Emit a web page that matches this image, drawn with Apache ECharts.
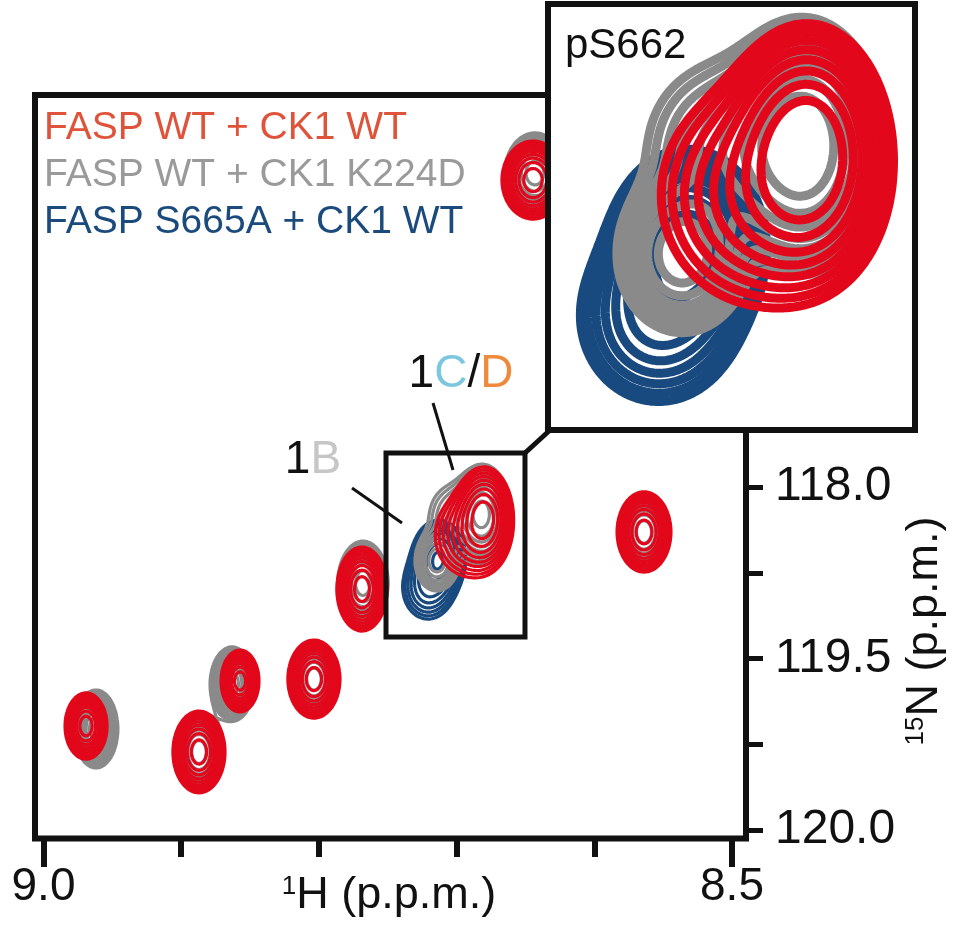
<!DOCTYPE html>
<html><head><meta charset="utf-8">
<script src="https://cdn.jsdelivr.net/npm/echarts@6/dist/echarts.min.js"></script>
<style>html,body{margin:0;padding:0;background:#fff}#c{width:954px;height:938px}</style>
</head><body><div id="c"></div>
<script>
// ---------------- data ----------------
const seriesNames = ['FASP WT + CK1 WT', 'FASP WT + CK1 K224D', 'FASP S665A + CK1 WT'];
const xTickValues = [9.0, 8.5];
const xTickLabels = ['9.0', '8.5'];
const yTickLabels = ['118.0', '', '119.5', '', '120.0'];
// peaks: [1H ppm, 15N ppm, sigma 1H (ppm), sigma 15N (ppm), height]
const peaksWT = [
  [8.6445, 116.210, 0.0105, 0.106, 10],
  [8.5639, 118.262, 0.0091, 0.109, 10],
  [8.7687, 118.595, 0.0085, 0.114, 10],
  [8.8036, 119.120, 0.0088, 0.106, 10],
  [8.8573, 119.131, 0.0064, 0.084, 10],
  [8.8871, 119.545, 0.0088, 0.111, 10],
  [8.9691, 119.394, 0.0071, 0.090, 10],
  [8.6798, 118.177, 0.0097, 0.1385, 9],
  [8.6930, 118.283, 0.0151, 0.151, 3]
];
const peaksK224D = [
  [8.6431, 116.169, 0.0102, 0.109, 10],
  [8.5639, 118.262, 0.0087, 0.103, 10],
  [8.7680, 118.560, 0.0085, 0.114, 10],
  [8.8036, 119.120, 0.0083, 0.101, 10],
  [8.8631, 119.149, 0.0074, 0.101, 10],
  [8.8871, 119.545, 0.0083, 0.106, 10],
  [8.9619, 119.411, 0.0074, 0.106, 10],
  [8.6811, 118.159, 0.0097, 0.1385, 9],
  [8.7144, 118.434, 0.0083, 0.091, 6],
  [8.7027, 118.169, 0.0124, 0.126, 2.5]
];
const peaksS665A = [
  [8.7128, 118.409, 0.0094, 0.106, 8],
  [8.7210, 118.590, 0.0113, 0.113, 3.5]
];
// magnified window (pS662) in ppm
const zoomX = [8.65033, 8.75127];
const zoomY = [117.8017, 118.8746];
// main plot extent in ppm
const mainX = [8.48983, 9.00617];
const mainY = [115.714, 120.0496];
const levelsMain = [1, 1.3, 1.69, 2.2, 2.86, 3.71, 4.83, 6.27, 8.16];
const levelsZoom = [0.6, 0.84, 1.18, 1.65, 2.3, 3.2, 4.5, 6.3];

// ---------------- contouring ----------------
function field(peaks, xr, yr, nx, ny) {
  const xs = [], ys = [];
  for (let i = 0; i < nx; i++) xs.push(xr[0] + (xr[1] - xr[0]) * i / (nx - 1));
  for (let j = 0; j < ny; j++) ys.push(yr[0] + (yr[1] - yr[0]) * j / (ny - 1));
  const f = new Float64Array(nx * ny);
  for (const p of peaks) {
    for (let j = 0; j < ny; j++) {
      const dy = (ys[j] - p[1]) / p[3];
      if (Math.abs(dy) > 6) continue;
      for (let i = 0; i < nx; i++) {
        const dx = (xs[i] - p[0]) / p[2];
        if (Math.abs(dx) > 6) continue;
        f[j * nx + i] += p[4] * Math.exp(-0.5 * (dx * dx + dy * dy));
      }
    }
  }
  return { f, xs, ys, nx, ny };
}
function march(F, L) {
  const { f, xs, ys, nx, ny } = F;
  const segs = [];
  function ip(i0, j0, i1, j1) {
    const a = f[j0 * nx + i0], b = f[j1 * nx + i1];
    const t = (L - a) / (b - a);
    return [xs[i0] + (xs[i1] - xs[i0]) * t, ys[j0] + (ys[j1] - ys[j0]) * t];
  }
  for (let j = 0; j < ny - 1; j++) {
    for (let i = 0; i < nx - 1; i++) {
      const a = f[j * nx + i], b = f[j * nx + i + 1], c = f[(j + 1) * nx + i + 1], d = f[(j + 1) * nx + i];
      const idx = (a > L ? 1 : 0) | (b > L ? 2 : 0) | (c > L ? 4 : 0) | (d > L ? 8 : 0);
      if (idx === 0 || idx === 15) continue;
      const E = [
        () => ['h' + i + '_' + j, ip(i, j, i + 1, j)],
        () => ['v' + (i + 1) + '_' + j, ip(i + 1, j, i + 1, j + 1)],
        () => ['h' + i + '_' + (j + 1), ip(i, j + 1, i + 1, j + 1)],
        () => ['v' + i + '_' + j, ip(i, j, i, j + 1)]
      ];
      let pairs;
      switch (idx) {
        case 1: case 14: pairs = [[3, 0]]; break;
        case 2: case 13: pairs = [[0, 1]]; break;
        case 3: case 12: pairs = [[3, 1]]; break;
        case 4: case 11: pairs = [[1, 2]]; break;
        case 6: case 9: pairs = [[0, 2]]; break;
        case 7: case 8: pairs = [[3, 2]]; break;
        case 5: { const m = (a + b + c + d) / 4; pairs = m > L ? [[0, 1], [2, 3]] : [[3, 0], [1, 2]]; break; }
        case 10: { const m = (a + b + c + d) / 4; pairs = m > L ? [[3, 0], [1, 2]] : [[0, 1], [2, 3]]; break; }
      }
      for (const pr of pairs) {
        const A = E[pr[0]](), B = E[pr[1]]();
        segs.push([A[0], A[1], B[0], B[1]]);
      }
    }
  }
  const adj = new Map();
  segs.forEach((s, k) => {
    for (const key of [s[0], s[2]]) { if (!adj.has(key)) adj.set(key, []); adj.get(key).push(k); }
  });
  const used = new Uint8Array(segs.length);
  const lines = [];
  for (let k = 0; k < segs.length; k++) {
    if (used[k]) continue;
    used[k] = 1;
    const s = segs[k];
    const fwd = [s[1], s[3]];
    let endKey = s[2];
    while (true) {
      const cand = adj.get(endKey).find(m => !used[m]);
      if (cand === undefined) break;
      used[cand] = 1;
      const t = segs[cand];
      if (t[0] === endKey) { fwd.push(t[3]); endKey = t[2]; } else { fwd.push(t[1]); endKey = t[0]; }
    }
    let startKey = s[0];
    const back = [];
    while (true) {
      const cand = adj.get(startKey).find(m => !used[m]);
      if (cand === undefined) break;
      used[cand] = 1;
      const t = segs[cand];
      if (t[0] === startKey) { back.push(t[3]); startKey = t[2]; } else { back.push(t[1]); startKey = t[0]; }
    }
    lines.push(back.reverse().concat(fwd));
  }
  return lines;
}
function contours(peaks, xr, yr, nx, ny, levels) {
  const F = field(peaks, xr, yr, nx, ny);
  let out = [];
  for (const L of levels) out = out.concat(march(F, L));
  return out;
}
const inZoom = p => p[0] >= zoomX[0] && p[0] <= zoomX[1] && p[1] >= zoomY[0] && p[1] <= zoomY[1];

const COLORS = ['#e2071a', '#8a8a8a', '#18497f'];
const TEXTCOL = ['#e0533b', '#9a9a9a', '#1b4a7c'];
const allPeaks = [peaksWT, peaksK224D, peaksS665A];

function contourSeries(lines, axisIdx, color, width, z, name) {
  return {
    type: 'custom', name, xAxisIndex: axisIdx, yAxisIndex: axisIdx, clip: true, z, silent: true,
    animation: false,
    data: lines.map(l => [l[0][0], l[0][1]]),
    renderItem: (params, api) => {
      const line = lines[params.dataIndex];
      return {
        type: 'polyline',
        shape: { points: line.map(p => api.coord(p)) },
        style: { stroke: color, lineWidth: width, fill: 'none', lineJoin: 'round', lineCap: 'round' }
      };
    }
  };
}

const series = [];
// draw order: blue, gray, red
[2, 1, 0].forEach((s, order) => {
  const mainLines = contours(allPeaks[s], mainX, mainY, 356, 372, levelsMain);
  series.push(contourSeries(mainLines, 0, COLORS[s], 3.2, 2 + order, seriesNames[s]));
  const zp = allPeaks[s].filter(inZoom);
  const zoomLines = contours(zp, zoomX, zoomY, 150, 172, levelsZoom);
  series.push(contourSeries(zoomLines, 1, COLORS[s], 9, 12 + order, seriesNames[s] + ' (zoom)'));
});
// magnified window box and connector
series.push({
  type: 'custom', xAxisIndex: 0, yAxisIndex: 0, z: 8, silent: true, animation: false,
  data: [[zoomX[0], zoomY[0]]],
  renderItem: (params, api) => {
    const p0 = api.coord([zoomX[1], zoomY[0]]);
    const p1 = api.coord([zoomX[0], zoomY[1]]);
    return {
      type: 'group', children: [
        { type: 'rect', shape: { x: p0[0], y: p0[1], width: p1[0] - p0[0], height: p1[1] - p0[1] },
          style: { fill: 'none', stroke: '#111', lineWidth: 5 } },
        { type: 'line', shape: { x1: p1[0], y1: p0[1], x2: 549, y2: 431 },
          style: { stroke: '#111', lineWidth: 5 } }
      ]
    };
  }
});

const FONT = '"Liberation Sans", Arial, Helvetica, sans-serif';
const hidden = { show: false };
const noLine = { show: false, onZero: false };
const option = {
  animation: false,
  backgroundColor: '#fff',
  grid: [
    { left: 35, top: 95, width: 711, height: 743.5 },
    { left: 548, top: 4, width: 367, height: 426 },
    { left: 43.5, top: 95, width: 688.5, height: 743.5 },
    { left: 43.5, top: 95, width: 688.5, height: 743.5 },
    { left: 43.5, top: 487, width: 702.5, height: 343 }
  ],
  xAxis: [
    { type: 'value', gridIndex: 0, min: mainX[0], max: mainX[1], inverse: true, show: false },
    { type: 'value', gridIndex: 1, min: zoomX[0], max: zoomX[1], inverse: true, show: false },
    { type: 'value', gridIndex: 2, min: 8.5, max: 9.0, interval: 0.1, inverse: true, position: 'bottom',
      axisLine: noLine, splitLine: hidden, axisLabel: hidden,
      axisTick: { show: true, length: 18.5, lineStyle: { color: '#111', width: 6 } } },
    { type: 'value', gridIndex: 3, min: 8.5, max: 9.0, interval: 0.5, inverse: true, position: 'bottom',
      axisLine: noLine, splitLine: hidden,
      axisTick: { show: true, length: 28.5, lineStyle: { color: '#111', width: 6 } },
      axisLabel: { show: true, margin: 26, fontSize: 46, fontFamily: FONT, color: '#111',
        formatter: v => { const k = xTickValues.findIndex(t => Math.abs(t - v) < 1e-6); return k >= 0 ? xTickLabels[k] : ''; } } },
    { type: 'value', gridIndex: 4, min: 0, max: 1, show: false }
  ],
  yAxis: [
    { type: 'value', gridIndex: 0, min: mainY[0], max: mainY[1], inverse: true, show: false },
    { type: 'value', gridIndex: 1, min: zoomY[0], max: zoomY[1], inverse: true, show: false },
    { type: 'value', gridIndex: 2, min: 0, max: 1, show: false },
    { type: 'value', gridIndex: 3, min: 0, max: 1, show: false },
    { type: 'category', gridIndex: 4, data: yTickLabels, boundaryGap: false, inverse: true, position: 'right',
      axisLine: noLine, splitLine: hidden,
      axisTick: { show: true, interval: 0, length: 17, lineStyle: { color: '#111', width: 5 } },
      axisLabel: { show: true, interval: 0, margin: 29, fontSize: 48, fontFamily: FONT, color: '#111' } }
  ],
  graphic: [
    { type: 'rect', z: 1, silent: true, shape: { x: 35, y: 95, width: 711, height: 743.5 },
      style: { fill: 'none', stroke: '#111', lineWidth: 6 } },
    { type: 'rect', z: 10, silent: true, shape: { x: 548, y: 4, width: 367, height: 426 },
      style: { fill: '#fff' } },
    { type: 'rect', z: 30, silent: true, shape: { x: 548, y: 4, width: 367, height: 426 },
      style: { fill: 'none', stroke: '#111', lineWidth: 6 } },
    { type: 'text', z: 31, x: 565, y: 46, silent: true,
      style: { text: 'pS662', fontSize: 42, fontFamily: FONT, fill: '#111', align: 'left', verticalAlign: 'middle' } },
    ...seriesNames.map((n, i) => ({ type: 'text', z: 31, x: 44, y: 128 + 47 * i, silent: true,
      style: { text: n, fontSize: 39, fontFamily: FONT, fill: TEXTCOL[i], align: 'left', verticalAlign: 'middle' } })),
    { type: 'text', z: 31, x: 313, y: 460, silent: true,
      style: { text: '{k|1}{b|B}', fontSize: 46, fontFamily: FONT, align: 'center', verticalAlign: 'middle',
        rich: { k: { fill: '#111', fontSize: 46, fontFamily: FONT }, b: { fill: '#c6c6c6', fontSize: 46, fontFamily: FONT } } } },
    { type: 'text', z: 31, x: 461, y: 374, silent: true,
      style: { text: '{k|1}{c|C}{k|/}{d|D}', fontSize: 46, fontFamily: FONT, align: 'center', verticalAlign: 'middle',
        rich: { k: { fill: '#111', fontSize: 46, fontFamily: FONT }, c: { fill: '#7cc7df', fontSize: 46, fontFamily: FONT },
                d: { fill: '#ee8a3e', fontSize: 46, fontFamily: FONT } } } },
    { type: 'line', z: 31, silent: true, shape: { x1: 352, y1: 488, x2: 402, y2: 523 }, style: { stroke: '#111', lineWidth: 3 } },
    { type: 'line', z: 31, silent: true, shape: { x1: 433, y1: 403, x2: 453, y2: 470 }, style: { stroke: '#111', lineWidth: 3 } },
    { type: 'text', z: 31, x: 389, y: 896, silent: true,
      style: { text: '{s|1}{n|H (p.p.m.)}', fontSize: 45, fontFamily: FONT, align: 'center', verticalAlign: 'middle',
        rich: { s: { fontSize: 26, fontFamily: FONT, fill: '#111', verticalAlign: 'top' }, n: { fontSize: 45, fontFamily: FONT, fill: '#111' } } } },
    { type: 'text', z: 31, x: 925, y: 631, rotation: Math.PI / 2, silent: true,
      style: { text: '{s|15}{n|N (p.p.m.)}', fontSize: 45, fontFamily: FONT, align: 'center', verticalAlign: 'middle',
        rich: { s: { fontSize: 26, fontFamily: FONT, fill: '#111', verticalAlign: 'top' }, n: { fontSize: 45, fontFamily: FONT, fill: '#111' } } } }
  ],
  series
};
const chart = echarts.init(document.getElementById('c'), null, { renderer: 'canvas' });
chart.setOption(option);
</script>
</body></html>
